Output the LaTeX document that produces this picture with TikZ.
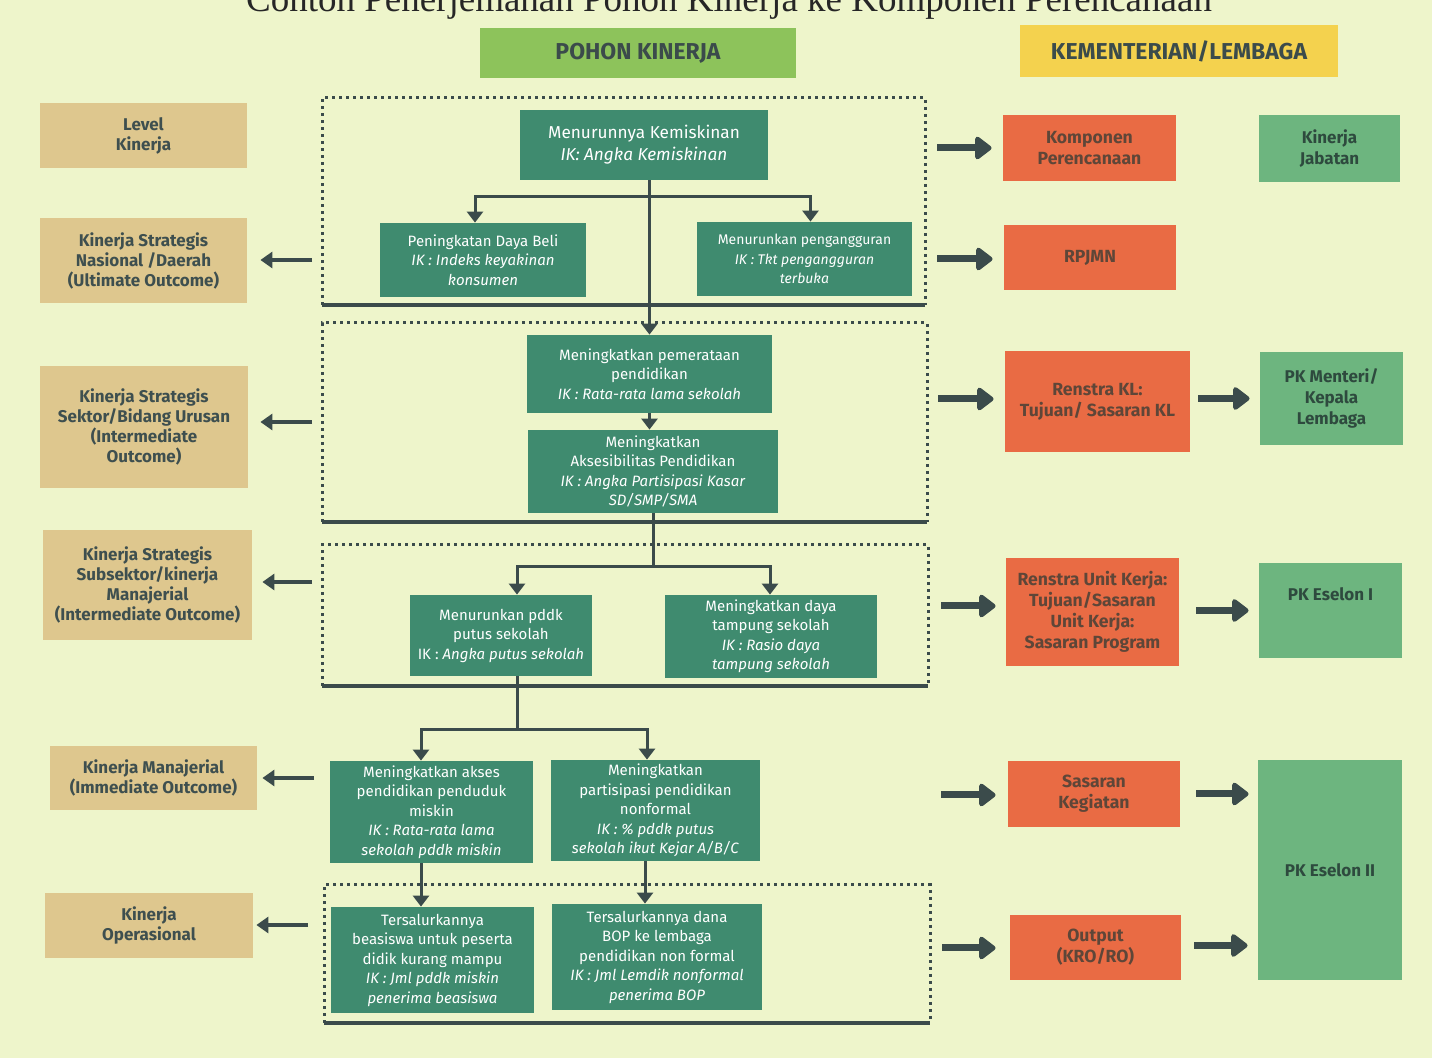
\documentclass[tikz,border=0pt]{standalone}
\usepackage{fontspec}
\setmainfont{Fira Sans}
\newfontfamily\titlefont{Liberation Serif}
\usetikzlibrary{arrows.meta}
\definecolor{bg}{HTML}{EEF5CB}
\definecolor{tanc}{HTML}{DEC78E}
\definecolor{labtxt}{HTML}{3E4F4F}
\definecolor{teal}{HTML}{3F8B6F}
\definecolor{orangec}{HTML}{E96B44}
\definecolor{orgtxt}{HTML}{5E4638}
\definecolor{lgreen}{HTML}{6DB57F}
\definecolor{grntxt}{HTML}{2E4A3E}
\definecolor{hgreen}{HTML}{8DC35B}
\definecolor{hyellow}{HTML}{F4D24E}
\definecolor{darkc}{HTML}{3B4B4B}
\tikzset{
  tree/.style={fill=teal, text=white, inner sep=0pt, align=center, font=\fontsize{7.5}{9.75}\selectfont},
  lab/.style={fill=tanc, text=labtxt, inner sep=0pt, align=center, font=\bfseries\fontsize{8.5}{10}\selectfont},
  org/.style={fill=orangec, text=orgtxt, inner sep=0pt, align=center, font=\bfseries\fontsize{8.8}{10.5}\selectfont},
  grn/.style={fill=lgreen, text=grntxt, inner sep=0pt, align=center, font=\bfseries\fontsize{8.5}{10.5}\selectfont},
  hdr/.style={inner sep=0pt, text=darkc, font=\bfseries\fontsize{11.5}{13}\selectfont},
  dotbox/.style={darkc, line width=1.5pt, dash pattern=on 1.5pt off 2pt},
  baseline/.style={darkc, line width=2pt},
  tline/.style={darkc, line width=1.5pt},
  tarrow/.style={darkc, line width=1.5pt, -{Triangle[width=8pt,length=5.5pt]}},
  larrow/.style={darkc, line width=2pt, -{Triangle[width=8pt,length=6pt]}},
  bigarrow/.style={darkc, line width=3.5pt, -{Triangle[width=13pt,length=9pt,round]}}
}
\begin{document}
\begin{tikzpicture}[x=0.5pt,y=-0.5pt]
\useasboundingbox (0,0) rectangle (1432,1058);
\clip (0,0) rectangle (1432,1058);
\fill[bg] (0,0) rectangle (1432,1058);

% title (cut off at the top edge, as in the reference)
\node[anchor=base, inner sep=0pt, text=black!85, font=\titlefont\fontsize{18.5}{20}\selectfont] (title) at (729,12) {Contoh Penerjemahan Pohon Kinerja ke Komponen Perencanaan};

% headers
\node[hdr, fill=hgreen, minimum width=158pt, minimum height=25pt] (hpk) at (638,53) {POHON KINERJA};
\node[hdr, fill=hyellow, minimum width=159pt, minimum height=26pt] (hkl) at (1179,51) {KEMENTERIAN/LEMBAGA};

% left level labels
\node[lab, minimum width=103.5pt, minimum height=32.5pt] (lab1) at (143.5,135.5) {Level\\Kinerja};
\node[lab, minimum width=103.5pt, minimum height=42.5pt] (lab2) at (143.5,260.5) {Kinerja Strategis\\Nasional /Daerah\\(Ultimate Outcome)};
\node[lab, minimum width=104pt, minimum height=61pt] (lab3) at (144,427) {Kinerja Strategis\\Sektor/Bidang Urusan\\(Intermediate\\Outcome)};
\node[lab, minimum width=104.5pt, minimum height=55pt] (lab4) at (147.5,585) {Kinerja Strategis\\Subsektor/kinerja\\Manajerial\\(Intermediate Outcome)};
\node[lab, minimum width=103.5pt, minimum height=32pt] (lab5) at (153.5,778) {Kinerja Manajerial\\(Immediate Outcome)};
\node[lab, minimum width=104pt, minimum height=32.5pt] (lab6) at (149,925.5) {Kinerja\\Operasional};

% dotted frames
\draw[dotbox] (322,305) -- (322,98) -- (925,98) -- (925,305);
\draw[baseline] (322,305) -- (925,305);
\draw[dotbox] (322,522) -- (322,323) -- (927,323) -- (927,522);
\draw[baseline] (322,522) -- (927,522);
\draw[dotbox] (322,686) -- (322,545) -- (928,545) -- (928,686);
\draw[baseline] (322,686) -- (928,686);
\draw[dotbox] (324,1023) -- (324,885) -- (930,885) -- (930,1023);
\draw[baseline] (324,1023) -- (930,1023);

% tree nodes
\node[tree, minimum width=124pt, minimum height=35pt, font=\fontsize{8.6}{11}\selectfont] (n1) at (644,145) {Menurunnya Kemiskinan\\\textit{IK: Angka Kemiskinan}};
\node[tree, minimum width=103pt, minimum height=37pt] (n2a) at (483,260) {Peningkatan Daya Beli\\\textit{IK : Indeks keyakinan}\\\textit{konsumen}};
\node[tree, minimum width=107.5pt, minimum height=37pt, font=\fontsize{7}{9.75}\selectfont] (n2b) at (804.5,259) {Menurunkan pengangguran\\\textit{IK : Tkt pengangguran}\\\textit{terbuka}};
\node[tree, minimum width=122.5pt, minimum height=39pt] (n3) at (649.5,374) {Meningkatkan pemerataan\\pendidikan\\\textit{IK : Rata-rata lama sekolah}};
\node[tree, minimum width=125pt, minimum height=41.5pt] (n4) at (653,471.5) {Meningkatkan\\Aksesibilitas Pendidikan\\\textit{IK : Angka Partisipasi Kasar}\\\textit{SD/SMP/SMA}};
\node[tree, minimum width=91pt, minimum height=40.5pt] (n5a) at (501,635.5) {Menurunkan pddk\\putus sekolah\\IK : \textit{Angka putus sekolah}};
\node[tree, minimum width=106pt, minimum height=41.5pt] (n5b) at (771,636.5) {Meningkatkan daya\\tampung sekolah\\\textit{IK : Rasio daya}\\\textit{tampung sekolah}};
\node[tree, minimum width=101.5pt, minimum height=51pt] (n6a) at (431.5,812) {Meningkatkan akses\\pendidikan penduduk\\miskin\\\textit{IK : Rata-rata lama}\\\textit{sekolah pddk miskin}};
\node[tree, minimum width=104.5pt, minimum height=50.5pt] (n6b) at (655.5,810.5) {Meningkatkan\\partisipasi pendidikan\\nonformal\\\textit{IK : \% pddk putus}\\\textit{sekolah ikut Kejar A/B/C}};
\node[tree, minimum width=101.5pt, minimum height=53pt] (n7a) at (432.5,960) {Tersalurkannya\\beasiswa untuk peserta\\didik kurang mampu\\\textit{IK : Jml pddk miskin}\\\textit{penerima beasiswa}};
\node[tree, minimum width=105pt, minimum height=53pt] (n7b) at (657,957) {Tersalurkannya dana\\BOP ke lembaga\\pendidikan non formal\\\textit{IK : Jml Lemdik nonformal}\\\textit{penerima BOP}};

% tree connectors
\coordinate (j1) at (649.5,197);
\coordinate (j2) at (653,567);
\coordinate (j3) at (517,730);
\draw[tarrow] (n1.south -| n3.north) -- (n3.north);
\draw[tarrow] (j1) -| ([xshift=-4pt]n2a.north);
\draw[tarrow] (j1) -| ([xshift=3pt]n2b.north);
\draw[tarrow] (n3.south) -- (n3.south |- n4.north);
\draw[tline] (n4.south) -- (j2);
\draw[tarrow] (j2) -| ([xshift=8pt]n5a.north);
\draw[tarrow] (j2) -| ([xshift=-0.5pt]n5b.north);
\draw[tline] ([xshift=8pt]n5a.south) -- (j3);
\draw[tarrow] (j3) -| ([xshift=-5.25pt]n6a.north);
\draw[tarrow] (j3) -| ([xshift=-4.25pt]n6b.north);
\draw[tarrow] ([xshift=-5.25pt]n6a.south) -- ([xshift=-5.25pt]n6a.south |- n7a.north);
\draw[tarrow] ([xshift=-5.25pt]n6b.south) -- ([xshift=-5.25pt]n6b.south |- n7b.north);

% left arrows
\coordinate (l2) at (312,260);
\coordinate (l3) at (312,422);
\coordinate (l4) at (312,582);
\coordinate (l5) at (314,778);
\coordinate (l6) at (308,925);
\draw[larrow, shorten >=6.5pt] (l2) -- (l2 -| lab2.east);
\draw[larrow, shorten >=6pt] (l3) -- (l3 -| lab3.east);
\draw[larrow, shorten >=5pt] (l4) -- (l4 -| lab4.east);
\draw[larrow, shorten >=2.5pt] (l5) -- (l5 -| lab5.east);
\draw[larrow, shorten >=1.5pt] (l6) -- (l6 -| lab6.east);

% right column: planning components
\node[org, minimum width=86.5pt, minimum height=33pt] (o1) at (1089.5,148) {Komponen\\Perencanaan};
\node[org, minimum width=86pt, minimum height=32.5pt] (o2) at (1090,257.5) {RPJMN};
\node[org, minimum width=92.5pt, minimum height=50.5pt] (o3) at (1097.5,401.5) {Renstra KL:\\Tujuan/ Sasaran KL};
\node[org, minimum width=86.5pt, minimum height=54pt] (o4) at (1092.5,612) {Renstra Unit Kerja:\\Tujuan/Sasaran\\Unit Kerja:\\Sasaran Program};
\node[org, minimum width=86pt, minimum height=33pt] (o5) at (1094,794) {Sasaran\\Kegiatan};
\node[org, minimum width=85.5pt, minimum height=32.5pt] (o6) at (1095.5,947.5) {Output\\(KRO/RO)};

\node[grn, minimum width=70.5pt, minimum height=33.5pt] (g1) at (1329.5,148.5) {Kinerja\\Jabatan};
\node[grn, minimum width=71.5pt, minimum height=46.5pt] (g2) at (1331.5,398.5) {PK Menteri/\\Kepala\\Lembaga};
\node[grn, minimum width=71.5pt, minimum height=47.5pt] (g3) at (1330.5,610.5) {PK Eselon I\\[6pt]};
\node[grn, minimum width=72pt, minimum height=110pt] (g4) at (1330,870) {PK Eselon II};

% arrows into planning components
\coordinate (r1) at (937,148);
\coordinate (r2) at (937,259);
\coordinate (r3) at (938,399);
\coordinate (r4) at (941,606);
\coordinate (r5) at (941,795);
\coordinate (r6) at (942,948);
\draw[bigarrow, shorten >=5.5pt] (r1) -- (r1 -| o1.west);
\draw[bigarrow, shorten >=5.5pt] (r2) -- (r2 -| o2.west);
\draw[bigarrow, shorten >=5.5pt] (r3) -- (r3 -| o3.west);
\draw[bigarrow, shorten >=5pt] (r4) -- (r4 -| o4.west);
\draw[bigarrow, shorten >=6pt] (r5) -- (r5 -| o5.west);
\draw[bigarrow, shorten >=7pt] (r6) -- (r6 -| o6.west);

% arrows to PK boxes
\draw[bigarrow, shorten <=4pt, shorten >=5pt] (o3.east |- g2.west) -- (g2.west);
\draw[bigarrow, shorten <=8.5pt, shorten >=5pt] (o4.east |- g3.west) -- (g3.west);
\draw[bigarrow, shorten <=8pt, shorten >=4.5pt] (o5.east) -- (o5.east -| g4.west);
\draw[bigarrow, shorten <=6.5pt, shorten >=5pt] ([yshift=1pt]o6.east) -- ([yshift=1pt]o6.east -| g4.west);
\end{tikzpicture}
\end{document}
